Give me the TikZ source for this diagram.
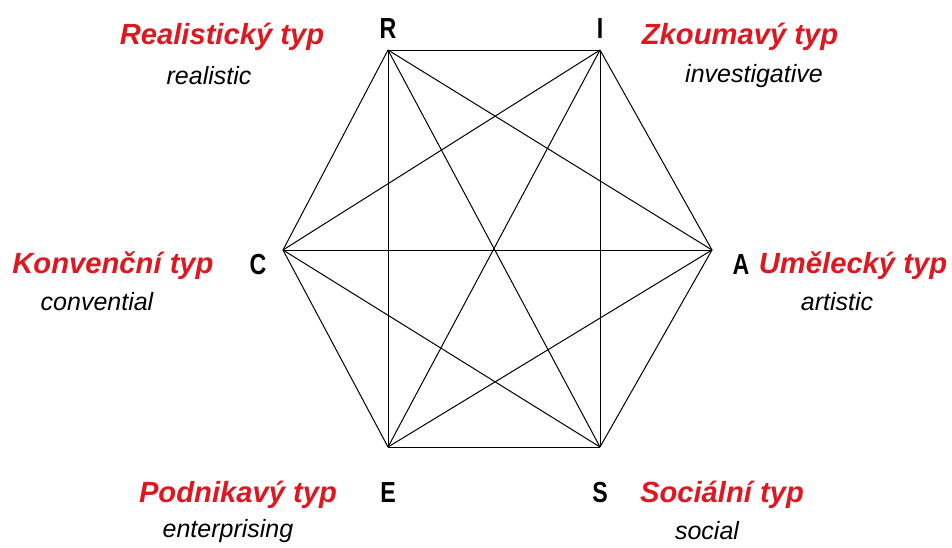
\documentclass[tikz,border=0pt]{standalone}
\usepackage{fontspec}
\setmainfont{Liberation Sans}
\definecolor{typred}{RGB}{222,24,32}
\tikzset{
  typname/.style={text=typred, font=\fontsize{14.6}{17}\selectfont\bfseries\itshape, inner sep=0pt},
  typeng/.style={font=\fontsize{12.5}{15}\selectfont\itshape, inner sep=0pt},
  vletter/.style={font=\fontsize{14.5}{17}\selectfont\bfseries, inner sep=0pt, xscale=0.8},
}
\begin{document}
\begin{tikzpicture}[x=0.5pt, y=-0.5pt, line width=0.5pt]
    \useasboundingbox (0,0) rectangle (952,547);

    % vrcholy sestiuhelniku
    \coordinate (R) at (388,50);
    \coordinate (I) at (600,50);
    \coordinate (A) at (712,250);
    \coordinate (S) at (600,447);
    \coordinate (E) at (388,447);
    \coordinate (C) at (283,250);

    % vsechny spojnice
    \foreach \a/\b in {R/I,R/A,R/S,R/E,R/C,I/A,I/S,I/E,I/C,A/S,A/E,A/C,S/E,S/C,E/C}
        \draw (\a) -- (\b);

    % pismena u vrcholu
    \node[vletter] (lR) at (388,29) {R};
    \node[vletter] (lI) at (600,29) {I};
    \node[vletter] (lA) at (741,265) {A};
    \node[vletter] (lC) at (258,265) {C};
    \node[vletter] (lE) at (388,493) {E};
    \node[vletter] (lS) at (600,493) {S};

    % nazvy typu
    \node[typname] (nR) at (222,37) {Realistický typ};
    \node[typeng] (eR) at (209,76) {realistic};
    \node[typname] (nI) at (740,37) {Zkoumavý typ};
    \node[typeng] (eI) at (754,76) {investigative};
    \node[typname] (nC) at (113,266) {Konvenční typ};
    \node[typeng] (eC) at (97,302) {convential};
    \node[typname] (nA) at (853,266) {Umělecký typ};
    \node[typeng] (eA) at (837,302) {artistic};
    \node[typname] (nE) at (238,495) {Podnikavý typ};
    \node[typeng] (eE) at (228,531) {enterprising};
    \node[typname] (nS) at (722,495) {Sociální typ};
    \node[typeng] (eS) at (707,531) {social};
\end{tikzpicture}
\end{document}
